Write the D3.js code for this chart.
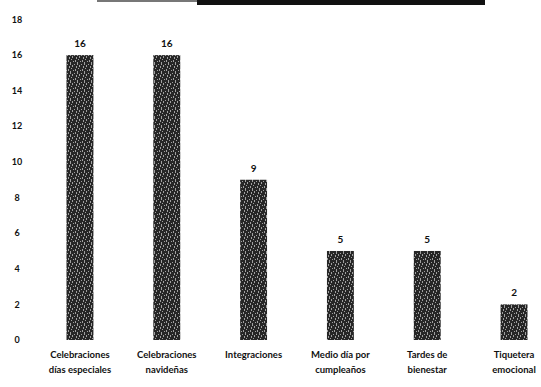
<!DOCTYPE html>
<html>
<head>
<meta charset="utf-8">
<script src="https://cdn.jsdelivr.net/npm/d3@7"></script>
<style>
  html, body { margin: 0; padding: 0; background: #fff; }
  svg { display: block; }
  text { font-family: Lato, "Open Sans", sans-serif; font-weight: 700; fill: #111; }
</style>
</head>
<body>
<script>
// Activities and how many times each took place
const categories = [
  ["Celebraciones", "días especiales"],
  ["Celebraciones", "navideñas"],
  ["Integraciones"],
  ["Medio día por", "cumpleaños"],
  ["Tardes de", "bienestar"],
  ["Tiquetera", "emocional"]
];
const values = [16, 16, 9, 5, 5, 2];
const yTicks = [0, 2, 4, 6, 8, 10, 12, 14, 16, 18];

const W = 541, H = 387;
const svg = d3.select("body").append("svg").attr("width", W).attr("height", H);

// printed-grain texture for the bars
const defs = svg.append("defs");
const pat = defs.append("pattern")
  .attr("id", "grain").attr("patternUnits", "userSpaceOnUse")
  .attr("width", 7).attr("height", 9);
pat.append("rect").attr("width", 7).attr("height", 9).attr("fill", "#262626");
[[0,0,1,2],[4,1,1,1],[2,2,1,2],[6,3,1,2],[1,5,1,1],[5,6,1,2],[3,7,1,1],[0,8,1,1]].forEach(([px,py,w,h]) =>
  pat.append("rect").attr("x", px).attr("y", py).attr("width", w).attr("height", h).attr("fill", "#a0a0a0"));

// cut-off heading underline at the very top
svg.append("rect").attr("x", 97).attr("y", 0).attr("width", 100).attr("height", 2).attr("fill", "#777");
svg.append("rect").attr("x", 197).attr("y", 0).attr("width", 288).attr("height", 5).attr("fill", "#111");

const x = d3.scaleBand()
  .domain(d3.range(values.length))
  .range([66.5, 527.5])
  .paddingInner(0.69)
  .paddingOuter(0);

const y = d3.scaleLinear().domain([0, 18]).range([340, 19.5]);

// y tick labels (no axis line)
svg.append("g").selectAll("text")
  .data(yTicks).join("text")
  .attr("x", 17).attr("y", d => y(d))
  .attr("dy", "0.35em")
  .attr("text-anchor", "middle")
  .attr("font-size", 9)
  .text(d => d);

// bars
svg.append("g").selectAll("rect")
  .data(values).join("rect")
  .attr("x", (d, i) => x(i))
  .attr("y", d => y(d))
  .attr("width", x.bandwidth())
  .attr("height", d => y(0) - y(d))
  .attr("fill", "url(#grain)");

// value labels
svg.append("g").selectAll("text")
  .data(values).join("text")
  .attr("x", (d, i) => x(i) + x.bandwidth() / 2)
  .attr("y", d => y(d) - 8)
  .attr("text-anchor", "middle")
  .attr("font-size", 10)
  .text(d => d);

// category labels
const cat = svg.append("g").selectAll("text")
  .data(categories).join("text")
  .attr("x", (d, i) => x(i) + x.bandwidth() / 2)
  .attr("y", 358)
  .attr("text-anchor", "middle")
  .attr("font-size", 9.5);
cat.selectAll("tspan")
  .data(d => d).join("tspan")
  .attr("x", function() { return this.parentNode.getAttribute("x"); })
  .attr("dy", (d, j) => j === 0 ? 0 : 15)
  .text(d => d);
</script>
</body>
</html>
